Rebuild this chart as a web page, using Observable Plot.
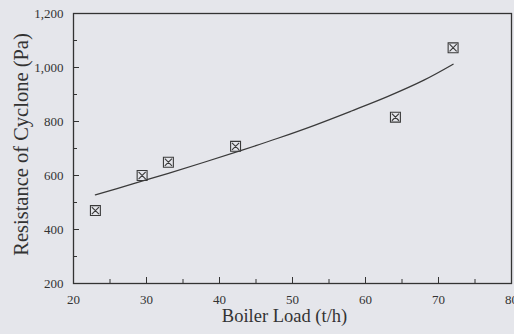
<!DOCTYPE html>
<html><head><meta charset="utf-8">
<script src="https://cdn.jsdelivr.net/npm/d3@7"></script>
<script src="https://cdn.jsdelivr.net/npm/@observablehq/plot@0.6"></script>
<style>html,body{margin:0;padding:0;background:#e5e6eb;} svg{display:block}</style>
</head><body><div id="chart"></div>
<script>
// Measured points
const loadMeasured = [23.0, 29.4, 33.0, 42.2, 64.1, 72.0];
const resistanceMeasured = [470, 600, 649, 708, 816, 1073];
// Fitted curve
const loadFit = [23, 28, 33, 38, 43, 48, 53, 58, 63, 68, 72];
const resistanceFit = [528, 568, 608, 650, 693, 738, 786, 838, 892, 953, 1012];
// Ticks
const xMajorTicks = [20, 30, 40, 50, 60, 70, 80];
const xMinorTicks = [25, 35, 45, 55, 65, 75];
const yMajorTicks = [200, 400, 600, 800, 1000, 1200];
const yMinorTicks = [300, 500, 700, 900, 1100];
const xTitle = "Boiler Load (t/h)";
const yTitle = "Resistance of Cyclone (Pa)";

const measured = loadMeasured.map((x, i) => ({x, y: resistanceMeasured[i]}));
const fit = loadFit.map((x, i) => ({x, y: resistanceFit[i]}));

const ink = "#333";
const boxX = {
  draw(ctx, size) {
    const s = Math.sqrt(size) / 2;
    ctx.moveTo(-s, -s); ctx.lineTo(s, -s); ctx.lineTo(s, s); ctx.lineTo(-s, s); ctx.closePath();
    const t = s * 0.72;
    ctx.moveTo(-t, -t); ctx.lineTo(t, t);
    ctx.moveTo(t, -t); ctx.lineTo(-t, t);
  }
};

const chart = Plot.plot({
  width: 514, height: 334,
  marginLeft: 73, marginRight: 3, marginTop: 13, marginBottom: 51,
  style: {fontFamily: "'Liberation Serif', 'DejaVu Serif', serif", fontSize: "13px", color: ink, background: "#e5e6eb"},
  x: {domain: [20, 80], label: null},
  y: {domain: [200, 1200], label: null},
  marks: [
    Plot.axisX({ticks: xMajorTicks, tickSize: -6, text: null, label: null, stroke: ink}),
    Plot.axisX({ticks: xMinorTicks, tickSize: -4, text: null, label: null, stroke: ink}),
    Plot.axisX({ticks: xMajorTicks, tickSize: 0, tickPadding: 11, label: null, fill: ink, fontSize: 13}),
    Plot.axisY({ticks: yMajorTicks, tickSize: -6, text: null, label: null, stroke: ink}),
    Plot.axisY({ticks: yMinorTicks, tickSize: -4, text: null, label: null, stroke: ink}),
    Plot.axisY({ticks: yMajorTicks, tickSize: 0, tickPadding: 10, tickFormat: d3.format(","), label: null, fill: ink, fontSize: 13}),
    Plot.frame({stroke: ink, strokeWidth: 1.3}),
    Plot.line(fit, {x: "x", y: "y", stroke: "#3a3a3a", strokeWidth: 1.3, curve: "catmull-rom"}),
    Plot.dot(measured, {x: "x", y: "y", symbol: boxX, r: 5.6, stroke: "#3a3a3a", strokeWidth: 1.1}),
    Plot.text([xTitle], {frameAnchor: "bottom", textAnchor: "middle", lineAnchor: "middle", dx: -8, dy: 33, fontSize: 18.5, fill: ink}),
    Plot.text([yTitle], {frameAnchor: "left", textAnchor: "middle", lineAnchor: "middle", rotate: -90, dx: -52, dy: -4, fontSize: 20.5, fill: ink})
  ]
});
document.getElementById("chart").append(chart);
</script>
</body></html>
